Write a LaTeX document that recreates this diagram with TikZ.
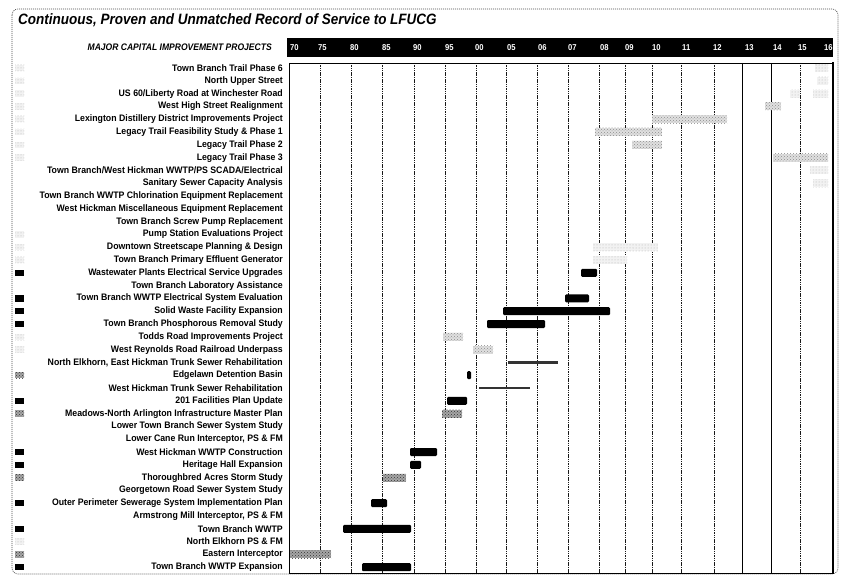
\documentclass[tikz,border=0pt]{standalone}
\usepackage{fontspec}
\setmainfont{Liberation Sans}
\newfontfamily\labfont[FakeStretch=0.93]{Liberation Sans}
\newfontfamily\hdrfont[FakeStretch=0.9]{Liberation Sans}
\usetikzlibrary{patterns}
\newcommand{\rowy}[1]{(68+(#1-1)*12.8)}
\newcommand{\cbar}[4]{\path[#1] (#2,{\rowy{#4}-4}) rectangle (#3,{\rowy{#4}+4});}
\newcommand{\tbar}[3]{\path[thinbar] (#1,{\rowy{#3}-1.3}) rectangle (#2,{\rowy{#3}+1.3});}
\newcommand{\cicon}[2]{\path[#1] (15,{\rowy{#2}-3.2}) rectangle (24,{\rowy{#2}+3.2});}
\begin{document}
\begin{tikzpicture}[x=1pt,y=-1pt,
  lab/.style={anchor=east,inner sep=0pt,font=\labfont\bfseries\fontsize{9.4}{10}\selectfont},
  ttl/.style={anchor=west,inner sep=0pt,font=\hdrfont\bfseries\itshape\fontsize{15}{17}\selectfont},
  hdr/.style={anchor=east,inner sep=0pt,font=\hdrfont\bfseries\itshape\fontsize{9.5}{10}\selectfont},
  yr/.style={anchor=west,inner sep=0pt,text=white,font=\hdrfont\bfseries\fontsize{8.5}{9}\selectfont},
  blackbar/.style={fill=black,rounded corners=1.2pt},
  iconblack/.style={fill=black},
  darkbar/.style={preaction={fill=black!35},pattern=crosshatch dots,pattern color=black!80},
  graybar/.style={preaction={fill=black!12},pattern=crosshatch dots,pattern color=black!45},
  faintbar/.style={preaction={fill=black!5},pattern=dots,pattern color=black!30},
  thinbar/.style={fill=black!80},
  gridl/.style={draw=black!90,line width=0.9pt,dash pattern=on 1.5pt off 0.8pt},
  gridsolid/.style={draw=black,line width=1pt}]
\useasboundingbox (0,0) rectangle (841,575);
\fill[white] (0,0) rectangle (841,575);
% outer frame
\draw[black!70,line width=0.6pt,dash pattern=on 1pt off 1pt,rounded corners=6pt] (12,9) rectangle (838,574);
% title
\node[ttl] (title) at (18,20) {Continuous, Proven and Unmatched Record of Service to LFUCG};
% header bar
\fill[black] (287,38) rectangle (833,57);
\node[hdr] (hdr) at (272,47) {MAJOR CAPITAL IMPROVEMENT PROJECTS};
\foreach \yl/\xx [count=\k] in {70/290,75/318,80/350,85/382,90/413,95/445,00/475,05/507,06/538,07/568,08/600,09/625,10/652,11/682,12/713,13/745,14/773,15/798,16/824}
  \node[yr] (y\k) at (\xx,47.5) {\yl};
% grid lines
\foreach \x in {320.7,351.7,382.7,414,445,476,506.7,537.7,568.3,599.3,625.7,652.7,681.7,714,800.7}
  \draw[gridl] (\x,63) -- (\x,573);
\foreach \x in {742.7,771.7}
  \draw[gridsolid] (\x,63) -- (\x,573);
% chart frame
\draw[black,line width=0.6pt] (289,63) -- (833,63);
\draw[black,line width=1pt] (289,63) -- (289,573) -- (833,573);
\draw[black,line width=1.6pt] (833,62) -- (833,573.5);
% labels
\foreach \lbl [count=\i] in {Town Branch Trail Phase 6,North Upper Street,US 60/Liberty Road at Winchester Road,West High Street Realignment,Lexington Distillery District Improvements Project,Legacy Trail Feasibility Study \& Phase 1,Legacy Trail Phase 2,Legacy Trail Phase 3,Town Branch/West Hickman WWTP/PS SCADA/Electrical,Sanitary Sewer Capacity Analysis,Town Branch WWTP Chlorination Equipment Replacement,West Hickman Miscellaneous Equipment Replacement,Town Branch Screw Pump Replacement,Pump Station Evaluations Project,Downtown Streetscape Planning \& Design,Town Branch Primary Effluent Generator,Wastewater Plants Electrical Service Upgrades,Town Branch Laboratory Assistance,Town Branch WWTP Electrical System Evaluation,Solid Waste Facility Expansion,Town Branch Phosphorous Removal Study,Todds Road Improvements Project,West Reynolds Road Railroad Underpass,{North Elkhorn, East Hickman Trunk Sewer Rehabilitation},Edgelawn Detention Basin,West Hickman Trunk Sewer Rehabilitation,201 Facilities Plan Update,Meadows-North Arlington Infrastructure Master Plan,Lower Town Branch Sewer System Study,{Lower Cane Run Interceptor,  PS \& FM},West Hickman WWTP Construction,Heritage Hall Expansion,Thoroughbred Acres Storm Study,Georgetown Road Sewer System Study,Outer Perimeter Sewerage System Implementation Plan,{Armstrong Mill Interceptor, PS \& FM},Town Branch WWTP,North Elkhorn PS \& FM,Eastern Interceptor,Town Branch WWTP Expansion}
  \node[lab] (l\i) at (283,{\rowy{\i}}) {\lbl};
% legend icons
\foreach \r in {17,19,20,21,27,31,32,35,37,40} {\cicon{iconblack}{\r}}
\foreach \r in {25,28,33,39} {\cicon{darkbar}{\r}}
\foreach \r in {1,2,3,4,5,6,7,8,14,15,16,22,23,38} {\cicon{faintbar}{\r}}
% bars
\cbar{faintbar}{815}{828}{1}
\cbar{faintbar}{817}{828}{2}
\cbar{faintbar}{790}{800}{3}
\cbar{faintbar}{813}{828}{3}
\cbar{graybar}{765}{781}{4}
\cbar{graybar}{652}{727}{5}
\cbar{graybar}{595}{662}{6}
\cbar{graybar}{632}{662}{7}
\cbar{graybar}{773}{828}{8}
\cbar{faintbar}{810}{828}{9}
\cbar{faintbar}{813}{828}{10}
\cbar{faintbar}{593}{658}{15}
\cbar{faintbar}{593}{627}{16}
\cbar{blackbar}{581}{597}{17}
\cbar{blackbar}{565}{589}{19}
\cbar{blackbar}{503}{610}{20}
\cbar{blackbar}{487}{545}{21}
\cbar{graybar}{443}{463}{22}
\cbar{graybar}{473}{493}{23}
\tbar{508}{558}{24}
\cbar{blackbar}{467}{471}{25}
\tbar{479}{530}{26}
\cbar{blackbar}{447}{467}{27}
\cbar{darkbar}{442}{462}{28}
\cbar{blackbar}{410}{437}{31}
\cbar{blackbar}{410}{421}{32}
\cbar{darkbar}{383}{406}{33}
\cbar{blackbar}{371}{387}{35}
\cbar{blackbar}{343}{411}{37}
\cbar{darkbar}{290}{331}{39}
\cbar{blackbar}{362}{411}{40}
\end{tikzpicture}
\end{document}
